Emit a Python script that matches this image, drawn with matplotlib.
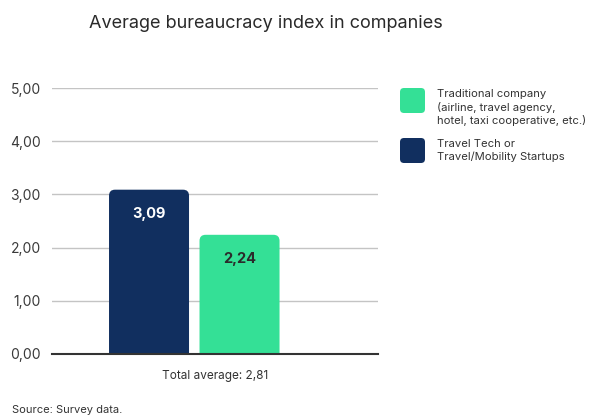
import matplotlib
matplotlib.use("Agg")
import matplotlib.pyplot as plt
from matplotlib.patches import FancyBboxPatch

plt.rcParams["font.family"] = ["Inter", "DejaVu Sans"]

# values per bar, drawn left to right
bar_labels = ["Travel Tech or\nTravel/Mobility Startups",
              "Traditional company\n(airline, travel agency,\nhotel, taxi cooperative, etc.)"]
bar_values = [3.09, 2.24]
bar_colors = ["#112F5F", "#34E096"]
value_colors = ["white", "#2B2B2B"]
y_ticks = [0, 1, 2, 3, 4, 5]
total_average = 2.81

# legend lists the traditional company first
legend_order = [1, 0]


def fmt(v):
    return f"{v:.2f}".replace(".", ",")


fig = plt.figure(figsize=(5.90, 4.19), dpi=100)
ax = fig.add_axes([52 / 590, 65.3 / 419, 326 / 590, 265.4 / 419])

ax.set_xlim(-1.072, 2.53)
ax.set_ylim(0, 5)

# px per data unit, used to keep the corner radius circular
px_x = 326 / (2.53 + 1.072)
px_y = 265.4 / 5
radius_px = 6
bar_w = 80 / px_x

for i, (v, c, tc) in enumerate(zip(bar_values, bar_colors, value_colors)):
    box = FancyBboxPatch((i - bar_w / 2, -0.5), bar_w, v + 0.5,
                         boxstyle=f"round,pad=0,rounding_size={radius_px / px_x}",
                         mutation_aspect=px_x / px_y,
                         facecolor=c, edgecolor="none", zorder=3)
    ax.add_patch(box)
    ax.text(i, v - 0.45, fmt(v), ha="center", va="center", color=tc,
            fontsize=10.5, fontweight="bold", zorder=4)

ax.set_yticks(y_ticks)
ax.set_yticklabels([fmt(t) for t in y_ticks], color="#3A3A3A", fontsize=10)
ax.set_xticks([])
ax.tick_params(axis="y", length=0, pad=8)
for s in ["top", "right", "left"]:
    ax.spines[s].set_visible(False)
ax.spines["bottom"].set_color("#333333")
ax.spines["bottom"].set_linewidth(1.5)
ax.spines["bottom"].set_zorder(5)
ax.grid(axis="y", color="#C4C4C4", lw=1, zorder=0)
ax.set_axisbelow(True)

ax.set_xlabel(f"Total average: {fmt(total_average)}", fontsize=8.5,
              color="#333333", labelpad=12)

fig.text(266 / 590, 1 - 24 / 419, "Average bureaucracy index in companies",
         ha="center", va="center", fontsize=13, color="#2A2A2A")
fig.text(12 / 590, 1 - 410 / 419, "Source: Survey data.", ha="left",
         va="center", fontsize=8, color="#333333")

# legend built by hand so the swatches can be rounded
legend_tops = [88, 138]
for k, idx in enumerate(legend_order):
    top = legend_tops[k]
    sw = FancyBboxPatch((400 / 590, 1 - (top + 25) / 419), 25 / 590, 25 / 419,
                        boxstyle=f"round,pad=0,rounding_size={4 / 590}",
                        mutation_aspect=590 / 419,
                        transform=fig.transFigure, facecolor=bar_colors[idx],
                        edgecolor="none")
    fig.patches.append(sw)
    fig.text(437 / 590, 1 - (top + 1) / 419, bar_labels[idx], ha="left",
             va="top", fontsize=8.1, color="#333333", linespacing=1.3)

fig.savefig("out.png", dpi=100)
